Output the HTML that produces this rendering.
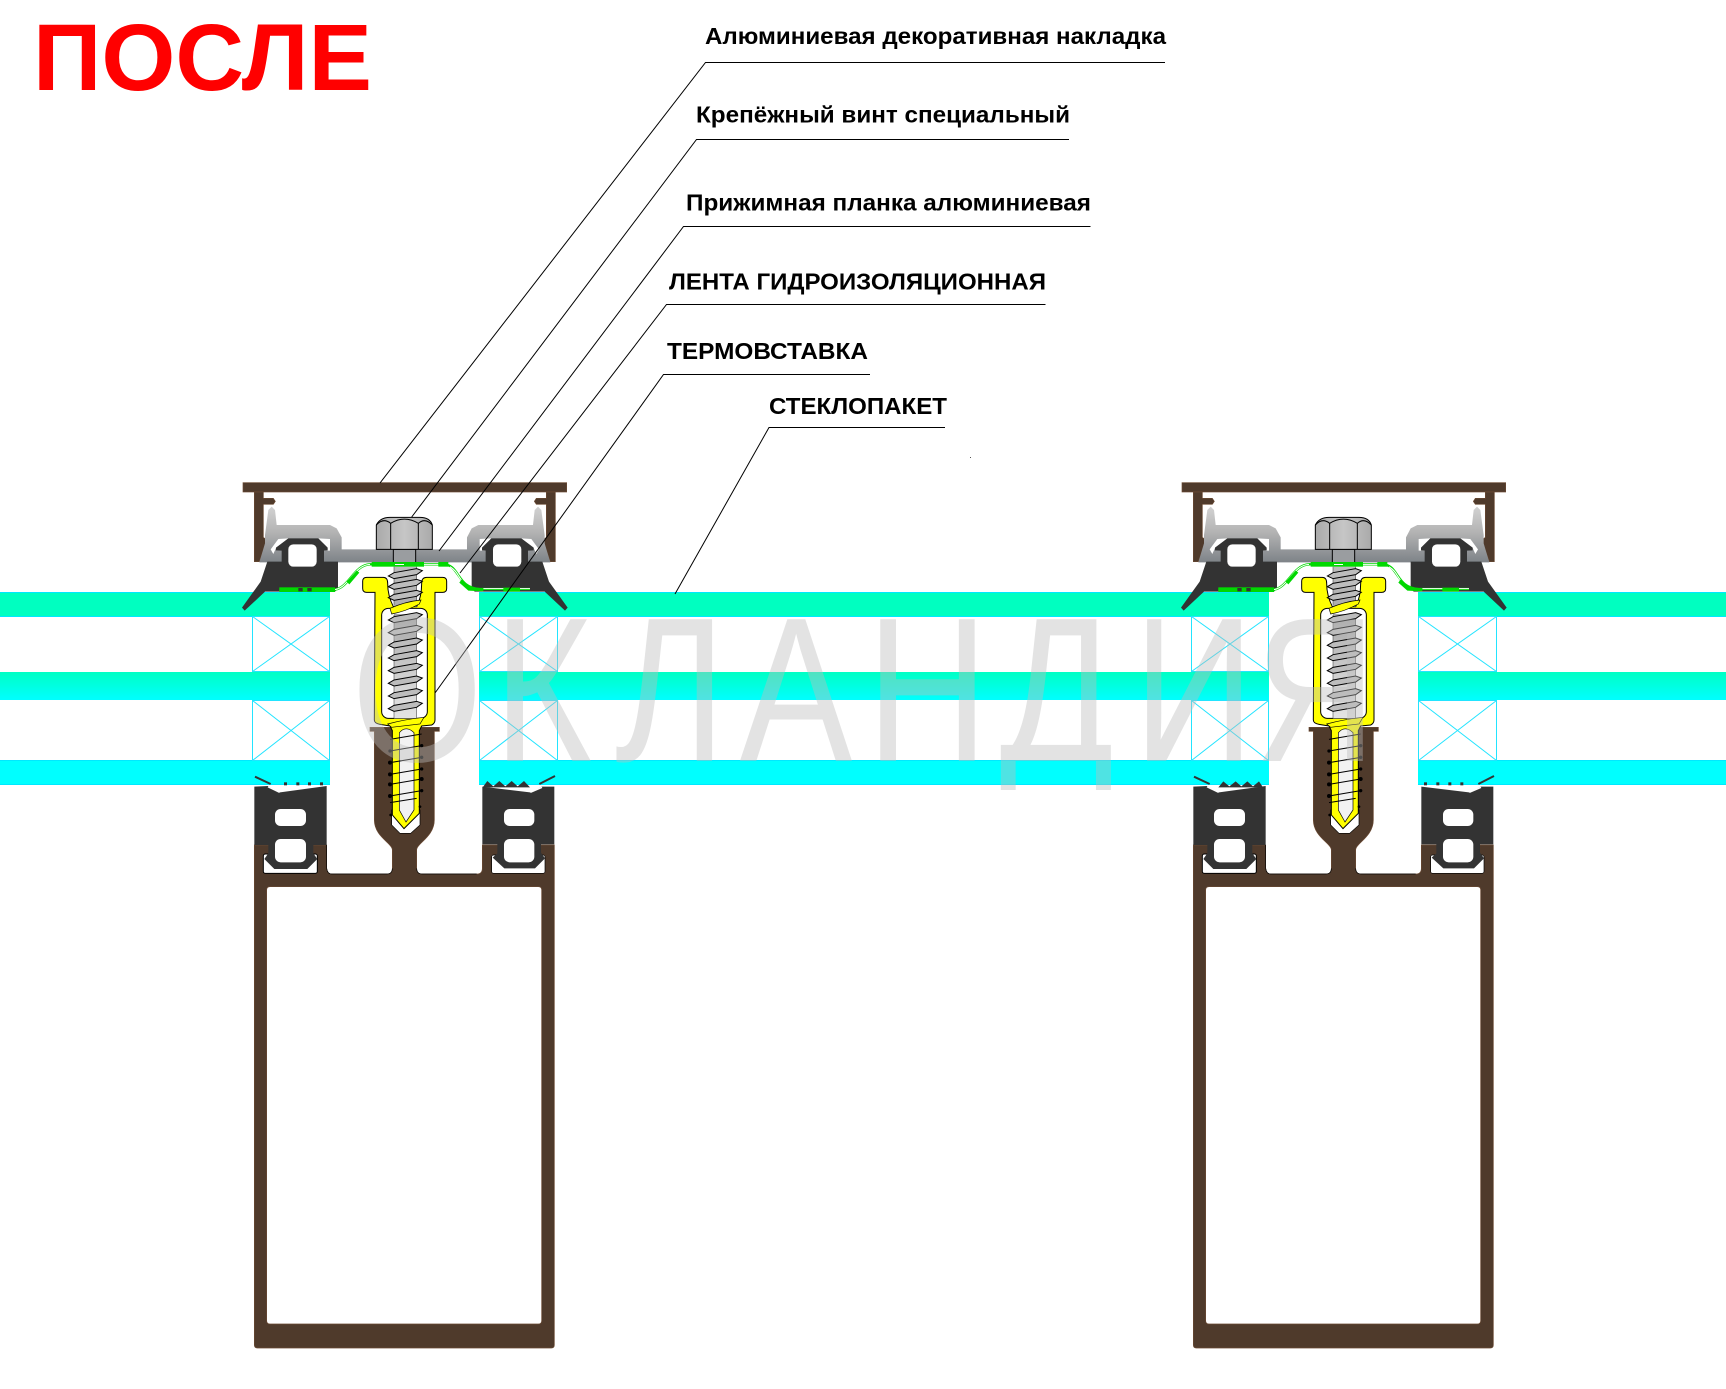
<!DOCTYPE html>
<html lang="ru">
<head>
<meta charset="utf-8">
<title>После</title>
<style>
html,body{margin:0;padding:0;background:#fff}
svg{display:block}
.l{font-family:"Liberation Sans",sans-serif;font-weight:bold;font-size:23px;fill:#000}
</style>
</head>
<body>
<svg xmlns="http://www.w3.org/2000/svg" width="1726" height="1389" viewBox="0 0 1726 1389">
<defs>
<clipPath id="wmClip"><rect x="0" y="600" width="1726" height="190"/></clipPath>
<linearGradient id="gPlate" x1="0" y1="0" x2="0" y2="1"><stop offset="0" stop-color="#d2d2d2"/><stop offset=".45" stop-color="#b4b4b4"/><stop offset="1" stop-color="#7e8388"/></linearGradient>
<linearGradient id="gBolt" x1="0" y1="0" x2="1" y2="0"><stop offset="0" stop-color="#aaa"/><stop offset=".5" stop-color="#c6c6c6"/><stop offset="1" stop-color="#aaa"/></linearGradient>
<linearGradient id="gMid" x1="0" y1="0" x2="0" y2="1"><stop offset="0" stop-color="#00ffc4"/><stop offset="1" stop-color="#00ffff"/></linearGradient>
<linearGradient id="gCore" gradientUnits="userSpaceOnUse" x1="0" y1="320" x2="0" y2="780"><stop offset="0" stop-color="#bdbdbd"/><stop offset=".35" stop-color="#a8a8a8"/><stop offset=".7" stop-color="#cfcfcf"/><stop offset="1" stop-color="#e4e4e4"/></linearGradient>
<polygon id="t" points="505,8 522,-2 590,-14 607,-8 590,4 522,16" fill="url(#gCore)" stroke="#000" stroke-width="3"/>
<g id="m" transform="translate(220,460) scale(.33333)">
  <!-- cap -->
  <g fill="#4f3a2b" stroke="#6b4a33" stroke-width="2">
    <rect x="69" y="68" width="971" height="28"/>
    <polygon points="103,96 130,96 130,115 160,115 166,124 160,133 130,133 130,232 141,240 118,305 103,305"/>
    <polygon points="1006,96 979,96 979,115 949,115 943,124 949,133 979,133 979,232 968,240 991,305 1006,305"/>
  </g>
  <!-- plate -->
  <polygon fill="url(#gPlate)" points="118,307 135,250 135,225 145,150 155,140 165,150 170,195 330,195 350,205 365,232 365,268 741,268 741,232 755,205 775,195 939,195 944,150 954,140 964,150 974,225 974,250 991,307"/>
  <g fill="#fff">
    <polygon points="175,237 205,235 168,264 160,282 152,268"/>
    <polygon points="295,235 330,237 330,272 312,272 323,265"/>
    <polygon points="934,237 904,235 941,264 949,282 957,268"/>
    <polygon points="814,235 779,237 779,272 797,272 786,265"/>
    <polygon points="546,268 562,268 553,280"/>
  </g>
  <!-- upper gaskets -->
  <g id="ug">
    <polygon fill="#333" points="205,235 295,235 323,263 323,271 312,272 312,305 354,305 354,385 345,395 135,395 74,452 66,443 122,365 142,305 185,305 185,272 168,271 168,263"/>
    <rect x="205" y="253" width="85" height="67" rx="15" fill="#fff"/>
  </g>
  <use href="#ug" transform="translate(1109,0) scale(-1,1)"/>
  <!-- brown mullion -->
  <path fill="#4f3a2b" stroke="#6b4a33" stroke-width="2" fill-rule="evenodd" d="M103,1155 L320,1155 L320,1225 Q322,1242 335,1242 L500,1242 Q517,1242 517,1225 L517,1170 C517,1150 463,1130 463,1080 L463,814 L450,814 L450,802 L658,802 L658,814 L643,814 L643,1080 C643,1130 590,1150 590,1170 L590,1225 Q590,1242 607,1242 L770,1242 Q787,1242 787,1225 L787,1155 L1003,1155 L1003,2655 Q1003,2664 994,2664 L112,2664 Q103,2664 103,2655 Z M150,1280 L955,1280 Q965,1280 965,1290 L965,2582 Q965,2592 955,2592 L150,2592 Q140,2592 140,2582 L140,1290 Q140,1280 150,1280 Z"/>
  <path d="M320,1155 L320,1225 Q322,1242 335,1242 L500,1242 Q517,1242 517,1225 M590,1225 Q590,1242 607,1242 L770,1242" fill="none" stroke="#000" stroke-width="2"/>
  <!-- gutters -->
  <rect x="130" y="1182" width="162" height="58" rx="6" fill="#fff" stroke="#000" stroke-width="3"/>
  <rect x="815" y="1185" width="160" height="55" rx="6" fill="#fff" stroke="#000" stroke-width="2"/>
  <!-- lower gaskets -->
  <polygon fill="#333" points="103,980 145,978 180,997 320,978 320,1155 280,1155 280,1180 292,1197 262,1227 163,1227 133,1197 145,1180 145,1155 103,1155"/>
  <polygon fill="#333" points="787,980 930,997 965,980 1003,980 1003,1153 963,1153 963,1178 975,1195 945,1225 853,1225 818,1193 832,1180 832,1153 787,1153"/>
  <g fill="#fff">
    <rect x="165" y="1047" width="93" height="51" rx="17"/>
    <rect x="165" y="1137" width="93" height="70" rx="17"/>
    <rect x="852" y="1047" width="91" height="51" rx="17"/>
    <rect x="852" y="1137" width="91" height="70" rx="17"/>
    <polygon points="145,978 180,995 178,999 143,982"/>
    <polygon points="965,980 930,995 932,999 967,984"/>
  </g>
  <path d="M105,950 L152,972 M1005,948 L958,972" stroke="#333" stroke-width="6" fill="none"/>
  <!-- tip cavity -->
  <polygon fill="#fff" stroke="#000" stroke-width="2" points="515,1050 515,1095 540,1120 572,1120 600,1095 600,1050"/>
  <!-- yellow holder -->
  <path fill="#ffff00" stroke="#000" stroke-width="3" d="M465,397 L440,397 Q428,397 428,385 L428,364 Q428,352 440,352 L490,352 Q503,352 503,370 C503,400 510,420 520,440 L590,440 C600,420 605,400 605,370 Q605,352 620,352 L668,352 Q680,352 680,364 L680,385 Q680,397 668,397 L645,397 L645,780 Q645,790 635,795 L605,798 L598,812 L598,1060 L552,1106 L517,1065 L517,812 L510,798 L480,793 Q463,790 463,780 Z"/>
  <rect x="485" y="445" width="137" height="330" rx="20" fill="#fff" stroke="#000" stroke-width="3"/>
  <!-- upper screw -->
  <rect x="522" y="320" width="68" height="120" fill="url(#gCore)"/>
  <rect x="522" y="462" width="68" height="313" fill="url(#gCore)"/>
  <path d="M522,320 V435 M590,320 V435 M522,465 V775 M590,465 V775" stroke="#333" stroke-width="1.5"/>
  <use href="#t" y="340"/><use href="#t" y="372"/><use href="#t" y="405"/>
  <path d="M510,445 Q555,425 603,420 L598,432 Q555,455 515,462 Z" fill="#ffff00" stroke="#000" stroke-width="2"/>
  <use href="#t" y="472"/><use href="#t" y="510"/><use href="#t" y="548"/><use href="#t" y="586"/><use href="#t" y="624"/><use href="#t" y="662"/><use href="#t" y="700"/><use href="#t" y="738"/>
  <path d="M503,792 Q555,778 612,772 L600,792 L515,802 Z" fill="#ffff00" stroke="#000" stroke-width="2"/>
  <!-- lower screw -->
  <path d="M538,818 Q558,795 582,818 L582,1050 L558,1086 L538,1050 Z" fill="#f2f2f2" stroke="#000" stroke-width="2"/>
  <g stroke="#000" stroke-width="3" fill="none">
    <path d="M510,838 L605,822 M510,873 L605,857 M510,908 L605,892 M510,943 L605,927 M510,973 L605,957 M510,1008 L605,992 M510,1028 L590,1015"/>
  </g>
  <g fill="#000">
    <circle cx="510" cy="873" r="5"/><circle cx="605" cy="857" r="5"/><circle cx="510" cy="908" r="6"/><circle cx="605" cy="892" r="5"/><circle cx="510" cy="943" r="6"/><circle cx="605" cy="927" r="5"/><circle cx="510" cy="973" r="6"/><circle cx="605" cy="957" r="6"/><circle cx="510" cy="1008" r="6"/><circle cx="605" cy="992" r="5"/><circle cx="512" cy="1065" r="4"/><circle cx="600" cy="1040" r="4"/>
  </g>
  <!-- bolt -->
  <rect x="520" y="268" width="67" height="42" fill="#9a9da0" stroke="#000" stroke-width="3"/>
  <path fill="url(#gBolt)" stroke="#000" stroke-width="3" d="M469,268 L469,195 Q480,172 510,172 L600,172 Q630,172 637,195 L637,268 Z"/>
  <path fill="none" stroke="#000" stroke-width="3" d="M512,190 V268 M595,190 V268 M469,195 Q490,172 512,190 Q553,165 595,190 Q615,172 637,195"/>
  <!-- tape -->
  <path fill="none" stroke="#00d800" stroke-width="7" d="M178,389 L340,389 C385,389 400,315 450,313 L670,313 C720,313 710,385 780,387 L930,387"/>
  <path fill="none" stroke="#fff" stroke-width="3" d="M340,389 C385,389 400,315 450,313 M612,313 H655 M690,320 C715,335 715,355 730,365 M790,386 L930,386"/>
  <g fill="#00d800">
    <rect x="178" y="382" width="167" height="14"/>
    <rect x="455" y="306" width="157" height="14"/>
    <rect x="655" y="306" width="30" height="14"/>
    <polygon points="380,365 410,332 418,338 388,373"/>
    <polygon points="725,358 750,380 790,386 790,394 745,392 718,368"/>
    <rect x="850" y="383" width="50" height="12"/>
  </g>
  <path d="M525,312 H552 V315 H525 Z" fill="#fff"/>
  <path d="M235,384 H248 V394 H235 Z M262,384 H275 V394 H262 Z" fill="#333"/>
</g>
</defs>

<!-- glass bands -->
<g>
  <rect x="0" y="592" width="330" height="24" fill="#00ffc0"/>
  <rect x="479" y="592" width="790" height="24" fill="#00ffc0"/>
  <rect x="1418" y="592" width="308" height="24" fill="#00ffc0"/>
  <rect x="0" y="672" width="330" height="28" fill="url(#gMid)"/>
  <rect x="479" y="672" width="790" height="28" fill="url(#gMid)"/>
  <rect x="1418" y="672" width="308" height="28" fill="url(#gMid)"/>
  <rect x="0" y="760" width="330" height="25" fill="#00ffff"/>
  <rect x="479" y="760" width="790" height="25" fill="#00ffff"/>
  <rect x="1418" y="760" width="308" height="25" fill="#00ffff"/>
  <path d="M0,592.5 H330 M479,592.5 H1269 M1418,592.5 H1726 M0,616.5 H330 M479,616.5 H1269 M1418,616.5 H1726 M0,784.5 H330 M479,784.5 H1269 M1418,784.5 H1726 M0,760.5 H330 M479,760.5 H1269 M1418,760.5 H1726" stroke="#00e8ff" stroke-width="1"/>
</g>
<!-- spacers -->
<g fill="none" stroke="#22e4ff" stroke-width="1">
  <path d="M252.5,616.5 H329.5 V671.5 H252.5 Z L329.5,671.5 M329.5,616.5 L252.5,671.5 M252.5,700.5 H329.5 V760.5 H252.5 Z L329.5,760.5 M329.5,700.5 L252.5,760.5"/>
  <path d="M479.5,616.5 H557.5 V671.5 H479.5 Z L557.5,671.5 M557.5,616.5 L479.5,671.5 M479.5,700.5 H557.5 V760.5 H479.5 Z L557.5,760.5 M557.5,700.5 L479.5,760.5"/>
  <path d="M1191.5,616.5 H1268.5 V671.5 H1191.5 Z L1268.5,671.5 M1268.5,616.5 L1191.5,671.5 M1191.5,700.5 H1268.5 V760.5 H1191.5 Z L1268.5,760.5 M1268.5,700.5 L1191.5,760.5"/>
  <path d="M1418.5,616.5 H1496.5 V671.5 H1418.5 Z L1496.5,671.5 M1496.5,616.5 L1418.5,671.5 M1418.5,700.5 H1496.5 V760.5 H1418.5 Z L1496.5,760.5 M1496.5,700.5 L1418.5,760.5"/>
</g>

<!-- modules -->
<use href="#m"/>
<use href="#m" transform="translate(939,0)"/>

<!-- gasket teeth -->
<g transform="translate(220,460) scale(.33333)" fill="#333">
  <path d="M788,982 L802,963 L820,979 L838,963 L856,979 L875,963 L893,979 L912,963 L930,982 Z"/>
  <rect x="192" y="967" width="9" height="9"/><rect x="229" y="967" width="9" height="9"/><rect x="264" y="967" width="9" height="9"/><rect x="300" y="967" width="9" height="9"/>
</g>
<g transform="translate(1159,460) scale(.33333)" fill="#333">
  <path d="M178,982 L193,964 L211,979 L230,964 L247,979 L265,964 L282,979 L300,964 L312,982 Z"/>
  <rect x="795" y="967" width="9" height="9"/><rect x="832" y="967" width="9" height="9"/><rect x="868" y="967" width="9" height="9"/><rect x="904" y="967" width="9" height="9"/>
</g>

<!-- leaders -->
<g fill="none" stroke="#000" stroke-width="1">
  <path d="M1165,62.5 H705.5 L380,483"/>
  <path d="M1069,139.5 H696.5 L411.7,517"/>
  <path d="M1090.5,226.5 H683.5 L439,551"/>
  <path d="M1045.5,304.5 H666.5 L460,573"/>
  <path d="M870,374.5 H663.5 L435,693"/>
  <path d="M945,427.5 H769 L675,594"/>
</g>
<rect x="970" y="457" width="1" height="1" fill="#555"/>

<!-- labels -->
<text class="l" x="705" y="44" textLength="461" lengthAdjust="spacingAndGlyphs">Алюминиевая декоративная накладка</text>
<text class="l" x="696" y="122.5" textLength="374" lengthAdjust="spacingAndGlyphs">Крепёжный винт специальный</text>
<text class="l" x="686" y="210.5" textLength="405" lengthAdjust="spacingAndGlyphs">Прижимная планка алюминиевая</text>
<text class="l" x="669" y="289.5" textLength="377" lengthAdjust="spacingAndGlyphs">ЛЕНТА ГИДРОИЗОЛЯЦИОННАЯ</text>
<text class="l" x="667" y="359" textLength="201" lengthAdjust="spacingAndGlyphs">ТЕРМОВСТАВКА</text>
<text class="l" x="769" y="414" textLength="178" lengthAdjust="spacingAndGlyphs">СТЕКЛОПАКЕТ</text>

<text x="33" y="90" font-family="'Liberation Sans',sans-serif" font-weight="bold" font-size="95" fill="#ff0000" textLength="339" lengthAdjust="spacingAndGlyphs">ПОСЛЕ</text>

<!-- watermark -->
<g clip-path="url(#wmClip)">
<text transform="translate(0,761) scale(.82,1)" x="428.6 601.7 750 902 1056.6 1219 1382 1530" y="0" font-family="'Liberation Sans',sans-serif" font-size="206" fill="rgb(188,188,188)" fill-opacity=".42">ОКЛАНДИЯ</text>
</g>
</svg>
</body>
</html>
